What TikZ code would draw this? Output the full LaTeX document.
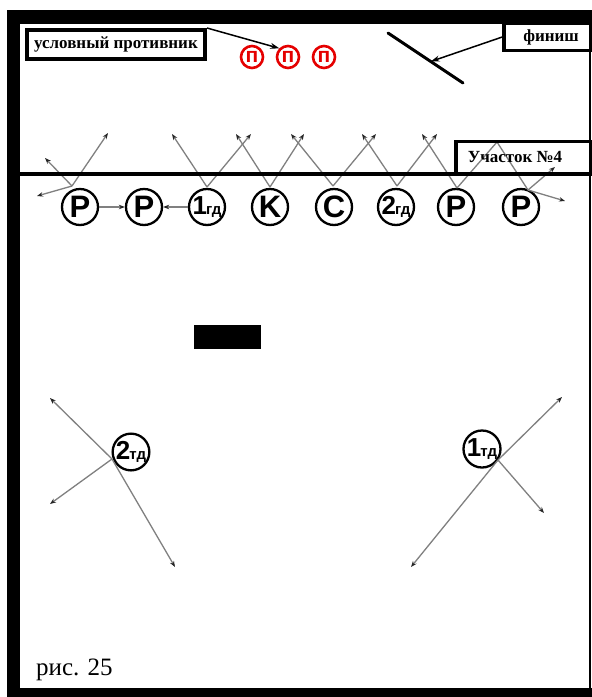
\documentclass[tikz,border=0pt]{standalone}
\usepackage{fontspec}
\setmainfont{Liberation Serif}
\newfontfamily\arialf{Liberation Sans}
\usetikzlibrary{arrows.meta,calc}
\begin{document}
\begin{tikzpicture}[x=1pt,y=-1pt,
  player/.style={circle,draw,line width=2.3pt,minimum size=36pt,inner sep=0pt,font=\arialf\bfseries\fontsize{31}{31}\selectfont},
  enemy/.style={circle,draw=red!90!black,line width=2.6pt,minimum size=22pt,inner sep=0pt,text=red!90!black,font=\arialf\bfseries\fontsize{21}{21}\selectfont},
  move/.style={draw=black!50,line width=1.3pt,-{Stealth[length=6pt,width=4.5pt,color=black!85]}},
  plainmove/.style={draw=black!50,line width=1.3pt},
  labelbox/.style={draw,line width=3.5pt,inner sep=0pt,font=\bfseries\fontsize{17}{17}\selectfont},
  labeltext/.style={inner sep=0pt,font=\bfseries\fontsize{17}{17}\selectfont}
]
\newcommand{\sm}[1]{{\fontsize{15}{15}\selectfont #1}}
\useasboundingbox (0,0) rectangle (592,697);
\fill[white] (0,0) rectangle (592,697);

% players
\node[player] (p1) at (80,207) {P};
\node[player] (p2) at (144,207) {P};
\node[player] (p3) at (207,207) {\fontsize{26}{26}\selectfont 1\kern-1pt\sm{гд}};
\node[player] (p4) at (270,207) {K};
\node[player] (p5) at (334,207) {C};
\node[player] (p6) at (396,207) {\fontsize{26}{26}\selectfont 2\kern-1pt\sm{гд}};
\node[player] (p7) at (456,207) {P};
\node[player] (p8) at (521,207) {P};

\node[player,minimum size=34pt] (t2) at (131,452) {\fontsize{26}{26}\selectfont 2\kern-1pt\sm{тд}};
\node[player,minimum size=37pt] (t1) at (482,449) {\fontsize{26}{26}\selectfont 1\kern-1pt\sm{тд}};

% apex points
\coordinate (a1) at (72,186);
\coordinate (a3) at (207,187);
\coordinate (a4) at (270,187);
\coordinate (a5) at (333,186);
\coordinate (a6) at (397,186);
\coordinate (a7) at (457,188);
\coordinate (a8) at (528,190);
\coordinate (peak) at (497,142);
\coordinate (q2) at (112,459);
\coordinate (q1) at (498,460);

% arrow ends
\coordinate (e1a) at (45,158);
\coordinate (e1b) at (108,133);
\coordinate (e1c) at (37,196);
\coordinate (e3a) at (172,134);
\coordinate (e3b) at (251,134);
\coordinate (e4a) at (236,134);
\coordinate (e4b) at (304,134);
\coordinate (e5a) at (291,134);
\coordinate (e5b) at (376,134);
\coordinate (e6a) at (362,134);
\coordinate (e6b) at (437,134);
\coordinate (e7a) at (422,134);
\coordinate (e8b) at (555,167);
\coordinate (e8c) at (565,201);
\coordinate (g2a) at (50,398);
\coordinate (g2b) at (175,567);
\coordinate (g2c) at (50,504);
\coordinate (g1a) at (562,397);
\coordinate (g1b) at (411,567);
\coordinate (g1c) at (544,513);

\draw[move] (p1) -- (p2);
\draw[move] (p3) -- (p2);
\draw[move] (a1) -- (e1a);
\draw[move] (a1) -- (e1b);
\draw[move] (a1) -- (e1c);
\draw[move] (a3) -- (e3a);
\draw[move] (a3) -- (e3b);
\draw[move] (a4) -- (e4a);
\draw[move] (a4) -- (e4b);
\draw[move] (a5) -- (e5a);
\draw[move] (a5) -- (e5b);
\draw[move] (a6) -- (e6a);
\draw[move] (a6) -- (e6b);
\draw[move] (a7) -- (e7a);
\draw[plainmove] (a7) -- (peak) -- (a8);
\draw[move] (a8) -- (e8b);
\draw[move] (a8) -- (e8c);
\draw[move] (q2) -- (g2a);
\draw[move] (q2) -- (g2b);
\draw[move] (q2) -- (g2c);
\draw[move] (q1) -- (g1a);
\draw[move] (q1) -- (g1b);
\draw[move] (q1) -- (g1c);

% frame
\fill[black] (7,10) rectangle (592,24);
\fill[black] (7,10) rectangle (20,697);
\fill[black] (7,688) rectangle (592,697);
\fill[black] (589,24) rectangle (591,688);

% section line and box
\draw[line width=4pt] (20,174) -- (592,174);
\node[labelbox,minimum width=136pt,minimum height=33pt] (uch) at (524,158) {};
\node[labeltext] (uchtext) at (515,157) {Участок №4};

% enemies
\node[enemy] (n1) at (252,57) {п};
\node[enemy] (n2) at (288,57) {п};
\node[enemy] (n3) at (324,57) {п};

\node[labelbox,line width=4pt,minimum width=178pt,minimum height=29pt] (ubox) at (116,44.5) {условный противник};
\draw[line width=1.5pt,-{Stealth[length=9pt,width=6pt]}] (ubox.north east) -- (n2.north west);

% finish
\coordinate (f1) at (388,33);
\coordinate (f2) at (463,83);
\draw[line width=3pt,line cap=round] (f1) -- (f2);
\node[labelbox,minimum width=88pt,minimum height=27pt] (fin) at (548,37) {};
\node[labeltext] (fintext) at (551,37) {финиш};
\draw[line width=1.5pt,-{Stealth[length=9pt,width=6pt]}] (fin.west) -- ($(f1)!0.57!(f2)$);

% black block
\fill[black] (194,325) rectangle (261,349);

% caption
\node[anchor=base west,inner sep=0pt,font=\fontsize{25}{25}\selectfont] (cap) at (36,675) {рис. 25};
\end{tikzpicture}
\end{document}
